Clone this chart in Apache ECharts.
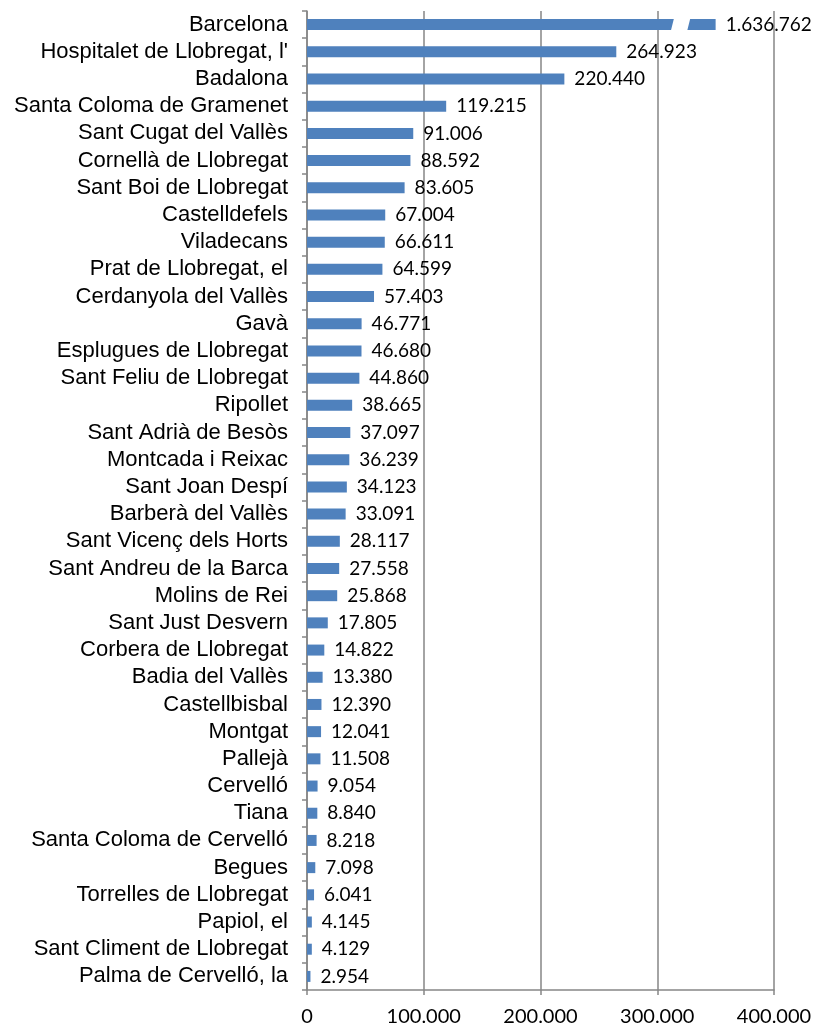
<!DOCTYPE html>
<html>
<head>
<meta charset="utf-8">
<script src="https://cdn.jsdelivr.net/npm/echarts@6/dist/echarts.min.js"></script>
<style>
  html, body { margin: 0; padding: 0; background: #fff; }
  #chart { width: 820px; height: 1027px; }
</style>
</head>
<body>
<div id="chart"></div>
<script>
var municipalities = ['Barcelona', "Hospitalet de Llobregat, l'", 'Badalona', 'Santa Coloma de Gramenet',
  'Sant Cugat del Vallès', 'Cornellà de Llobregat', 'Sant Boi de Llobregat', 'Castelldefels', 'Viladecans',
  'Prat de Llobregat, el', 'Cerdanyola del Vallès', 'Gavà', 'Esplugues de Llobregat', 'Sant Feliu de Llobregat',
  'Ripollet', 'Sant Adrià de Besòs', 'Montcada i Reixac', 'Sant Joan Despí', 'Barberà del Vallès',
  'Sant Vicenç dels Horts', 'Sant Andreu de la Barca', 'Molins de Rei', 'Sant Just Desvern',
  'Corbera de Llobregat', 'Badia del Vallès', 'Castellbisbal', 'Montgat', 'Pallejà', 'Cervelló', 'Tiana',
  'Santa Coloma de Cervelló', 'Begues', 'Torrelles de Llobregat', 'Papiol, el', 'Sant Climent de Llobregat',
  'Palma de Cervelló, la']

var population = [1636762, 264923, 220440, 119215, 91006, 88592, 83605, 67004, 66611, 64599, 57403, 46771,
  46680, 44860, 38665, 37097, 36239, 34123, 33091, 28117, 27558, 25868, 17805, 14822, 13380, 12390, 12041,
  11508, 9054, 8840, 8218, 7098, 6041, 4145, 4129, 2954]

// axis
var axisMin = 0
var axisMax = 400000
var axisStep = 100000

// bars longer than the axis are cut here and drawn with a break
var barCap = 350000
var breakFrom = 313000
var breakTo = 327000

function fmt (n) {
  return String(n).replace(/\B(?=(\d{3})+(?!\d))/g, '.')
}

var shown = population.map(function (v) { return Math.min(v, barCap) })
var breaks = []
population.forEach(function (v, i) {
  if (v > barCap) breaks.push([breakFrom, i, breakTo])
})

var chart = echarts.init(document.getElementById('chart'))

chart.setOption({
  animation: false,
  grid: { left: 307, right: 46, top: 11, bottom: 35 },
  xAxis: {
    type: 'value',
    min: axisMin,
    max: axisMax,
    interval: axisStep,
    axisLine: { show: true, lineStyle: { color: '#868686', width: 1.5 } },
    axisTick: { show: true, length: 5, lineStyle: { color: '#868686', width: 1.5 } },
    splitLine: { show: true, lineStyle: { color: '#868686', width: 1.5 } },
    axisLabel: {
      color: '#000',
      fontFamily: 'Lato',
      fontSize: 20,
      margin: 17,
      formatter: function (v) { return fmt(v) }
    }
  },
  yAxis: {
    type: 'category',
    inverse: true,
    data: municipalities,
    axisLine: { show: true, lineStyle: { color: '#868686', width: 1.5 } },
    axisTick: { show: true, length: 5, lineStyle: { color: '#868686', width: 1.5 } },
    axisLabel: {
      color: '#000',
      fontFamily: '"Liberation Sans", Arial, sans-serif',
      fontSize: 22,
      margin: 19,
      padding: [3, 0, 0, 0],
      interval: 0
    }
  },
  series: [{
    type: 'bar',
    data: shown,
    barWidth: 11,
    itemStyle: { color: '#4f81bd' },
    label: {
      show: true,
      position: 'right',
      distance: 10,
      color: '#000',
      fontFamily: 'Lato',
      fontSize: 19,
      padding: [3, 0, 0, 0],
      formatter: function (p) { return fmt(population[p.dataIndex]) }
    }
  }, {
    type: 'custom',
    data: breaks,
    encode: { x: 0, y: 1 },
    z: 5,
    renderItem: function (params, api) {
      var cat = api.value(1)
      var y = api.coord([0, cat])[1]
      var x1 = api.coord([api.value(0), cat])[0]
      var x2 = api.coord([api.value(2), cat])[0]
      var h = 8, s = 2
      return {
        type: 'polygon',
        shape: { points: [[x1 - s, y + h], [x1 + s, y - h], [x2 + s, y - h], [x2 - s, y + h]] },
        style: { fill: '#fff' }
      }
    }
  }]
})
</script>
</body>
</html>
